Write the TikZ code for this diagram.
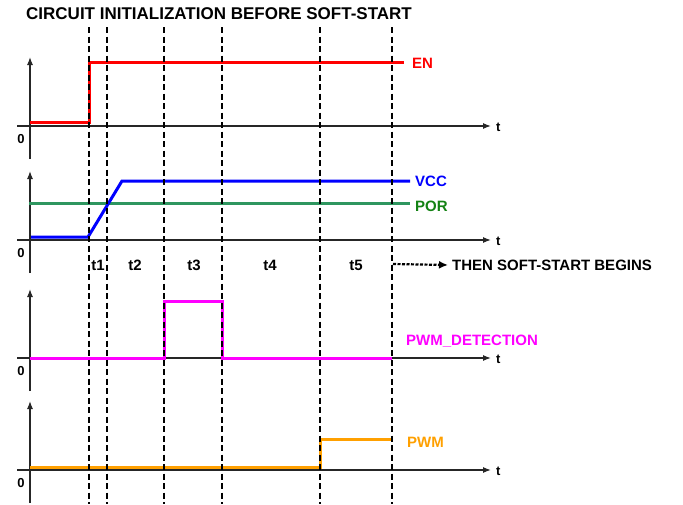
\documentclass[tikz,border=0pt]{standalone}
\usepackage{fontspec}
\setmainfont{Liberation Sans}
\usetikzlibrary{arrows.meta,positioning}

\definecolor{porline}{RGB}{46,150,95}
\definecolor{portext}{RGB}{20,130,20}
\definecolor{pwmorange}{RGB}{255,160,0}
\definecolor{detpink}{RGB}{255,0,255}

\begin{document}
\begin{tikzpicture}[
    x=1pt,y=-1pt,
    axisline/.style={draw=black!85,line width=1.2pt,-{Latex[length=8pt,width=6pt]}},
    marker/.style={draw=black,line width=1.6pt,dash pattern=on 6pt off 3.5pt},
    signal/.style={line width=3pt},
    lbl/.style={font=\fontsize{15}{17}\selectfont\bfseries,anchor=west,inner sep=0pt},
    small/.style={font=\fontsize{13}{15}\selectfont\bfseries,inner sep=0pt}
]
\useasboundingbox (0,0) rectangle (683,504);

\node[lbl,font=\fontsize{17}{19}\selectfont\bfseries] (title) at (26,14) {CIRCUIT INITIALIZATION BEFORE SOFT-START};

% axes of the four panels
\foreach \n/\y in {en/126,vcc/240,det/358,pwm/470} {
  \draw[axisline] (30,\y+33) -- (30,\y-69);
  \draw[axisline] (17,\y) -- (491,\y);
  \node[small] (zero\n) at (21,\y+13) {0};
  \node[small,anchor=west] (t\n) at (496,\y+1) {t};
}

% signals
\draw[signal,red] (30,122) -- (89,122) -- (89,62) -- (404,62);
\draw[signal,porline] (29,203) -- (410,203);
\draw[signal,blue] (31,237) -- (88,237) -- (122,181) -- (410,181);
\draw[signal,detpink] (30,358) -- (164,358) -- (164,301) -- (222,301) -- (222,358) -- (392,358);
\draw[signal,pwmorange] (30,467) -- (320,467) -- (320,439) -- (392,439);

\node[lbl,text=red] (en) at (412,63) {EN};
\node[lbl,text=blue] (vcc) at (415,181) {VCC};
\node[lbl,text=portext] (por) at (415,206) {POR};
\node[lbl,text=detpink] (pwmdet) at (406,341) {PWM\_DETECTION};
\node[lbl,text=pwmorange] (pwm) at (407,442) {PWM};

% time markers
\foreach \x in {89,107,164,222,320,392}
  \draw[marker] (\x,27) -- (\x,504);

\node[lbl,anchor=center] (t1) at (98,265) {t1};
\node[lbl,anchor=center] (t2) at (135,265) {t2};
\node[lbl,anchor=center] (t3) at (194,265) {t3};
\node[lbl,anchor=center] (t4) at (270,265) {t4};
\node[lbl,anchor=center] (t5) at (356,265) {t5};

\coordinate (softfrom) at (393,264);
\node[lbl] (begins) at (452,265) {THEN SOFT-START BEGINS};
\draw[line width=2.2pt,dash pattern=on 3pt off 1.5pt,-{Latex[length=9pt,width=8pt]}] (softfrom) -- ([xshift=-4pt]begins.west);
\end{tikzpicture}
\end{document}
